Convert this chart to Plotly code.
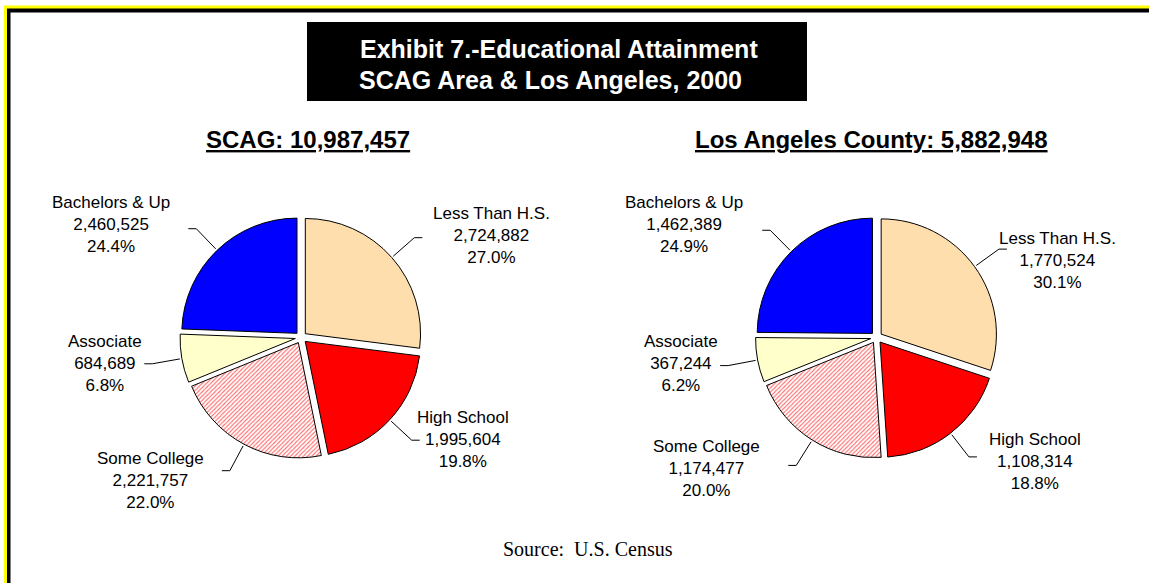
import math
import plotly.graph_objects as go

# ---------------- data ----------------
categories = ["Less Than H.S.", "High School", "Some College", "Associate", "Bachelors & Up"]
scag_values = [2724882, 1995604, 2221757, 684689, 2460525]
la_values = [1770524, 1108314, 1174477, 367244, 1462389]
scag_title = "SCAG: 10,987,457"
la_title = "Los Angeles County: 5,882,948"
main_title_1 = "Exhibit 7.-Educational Attainment"
main_title_2 = "SCAG Area & Los Angeles, 2000"
source_text = "Source:  U.S. Census"

# ---------------- styles / layout ----------------
W, H = 1149, 583
slice_colors = ["#FFDEAD", "#FF0000", "#FFFFFF", "#FFFFCC", "#0000FF"]
pattern_shapes = ["", "", "/", "", ""]
PULL = 0.05
HALF = 121          # half size of pie domain (px)
R_START = 123       # leader line start radius (px)
R_ELBOW = 151       # leader line elbow radius (px)
STUB = 8            # horizontal stub length (px)
LEFT_C = (301, 337.5)
RIGHT_C = (876.5, 337.5)
# label text block centres (px)
LEFT_LABELS = [(491, 236), (463, 439), (150, 480), (105, 363), (111, 224)]
RIGHT_LABELS = [(1057, 260), (1035, 461), (706, 468), (681, 363), (684, 224)]
FONT = "Liberation Sans, Arial"
LABEL_FONT = dict(family=FONT, size=17, color="black")


def px(x):
    return x / W


def py(y):
    return 1 - y / H


def domain(c):
    return dict(x=[px(c[0] - HALF), px(c[0] + HALF)],
                y=[py(c[1] + HALF), py(c[1] - HALF)])


def pie(values, c, name):
    return go.Pie(
        labels=categories, values=values, name=name, sort=False,
        direction="clockwise", rotation=0, pull=[PULL] * len(values),
        textinfo="none", hoverinfo="label+value+percent", showlegend=False,
        domain=domain(c),
        marker=dict(colors=slice_colors,
                    line=dict(color="black", width=1),
                    pattern=dict(shape=pattern_shapes, fgcolor="#FF0000",
                                 fgopacity=0.6, size=3, solidity=0.35)),
    )


def labels_and_leaders(values, c, positions):
    total = sum(values)
    anns, paths = [], []
    cum = 0
    for cat, v, (tx, ty) in zip(categories, values, positions):
        mid = (cum + v / 2) / total * 2 * math.pi
        cum += v
        s, co = math.sin(mid), math.cos(mid)
        x0, y0 = c[0] + R_START * s, c[1] - R_START * co
        x1, y1 = c[0] + R_ELBOW * s, c[1] - R_ELBOW * co
        x2 = x1 + (STUB if s > 0 else -STUB)
        paths.append(dict(
            type="path", xref="paper", yref="paper",
            path=f"M {px(x0)},{py(y0)} L {px(x1)},{py(y1)} L {px(x2)},{py(y1)}",
            line=dict(color="black", width=1),
        ))
        anns.append(dict(
            x=px(tx), y=py(ty), xref="paper", yref="paper",
            xanchor="center", yanchor="middle",
            text=f"{cat}<br>{v:,}<br>{v / total * 100:.1f}%",
            showarrow=False, font=LABEL_FONT, align="center",
        ))
    return anns, paths


fig = go.Figure()
fig.add_trace(pie(scag_values, LEFT_C, "SCAG"))
fig.add_trace(pie(la_values, RIGHT_C, "Los Angeles County"))

shapes = [
    dict(type="rect", xref="paper", yref="paper", x0=px(4), x1=px(1170), y0=py(5.5), y1=py(600),
         fillcolor="#FFFF00", line=dict(width=0), layer="below"),
    dict(type="rect", xref="paper", yref="paper", x0=px(7), x1=px(1170), y0=py(8.5), y1=py(600),
         fillcolor="#000000", line=dict(width=0), layer="below"),
    dict(type="rect", xref="paper", yref="paper", x0=px(10.5), x1=px(1170), y0=py(12.5), y1=py(600),
         fillcolor="#FFFFFF", line=dict(width=0), layer="below"),
    dict(type="rect", xref="paper", yref="paper", x0=px(307), x1=px(807), y0=py(22), y1=py(101),
         fillcolor="#000000", line=dict(width=0), layer="below"),
]


def text_ann(x, y, text, font):
    return dict(x=px(x), y=py(y), xref="paper", yref="paper", xanchor="center",
                yanchor="middle", text=text, showarrow=False, font=font)


annotations = [
    text_ann(559, 49, f"<b>{main_title_1}</b>", dict(family=FONT, size=25, color="white")),
    text_ann(550, 80, f"<b>{main_title_2}</b>", dict(family=FONT, size=25, color="white")),
    text_ann(308, 139, f"<b>{scag_title}</b>",
             dict(family=FONT, size=24, color="black", lineposition="under")),
    text_ann(871, 139, f"<b>{la_title}</b>",
             dict(family=FONT, size=24, color="black", lineposition="under")),
    text_ann(588, 549, source_text,
             dict(family="Liberation Serif, Times New Roman", size=20, color="black")),
]
for vals, c, pos in ((scag_values, LEFT_C, LEFT_LABELS), (la_values, RIGHT_C, RIGHT_LABELS)):
    a, p = labels_and_leaders(vals, c, pos)
    annotations += a
    shapes += p

fig.update_layout(
    width=W, height=H, margin=dict(l=0, r=0, t=0, b=0, pad=0),
    paper_bgcolor="white", plot_bgcolor="white",
    shapes=shapes, annotations=annotations,
)

fig.write_html("out.html")
